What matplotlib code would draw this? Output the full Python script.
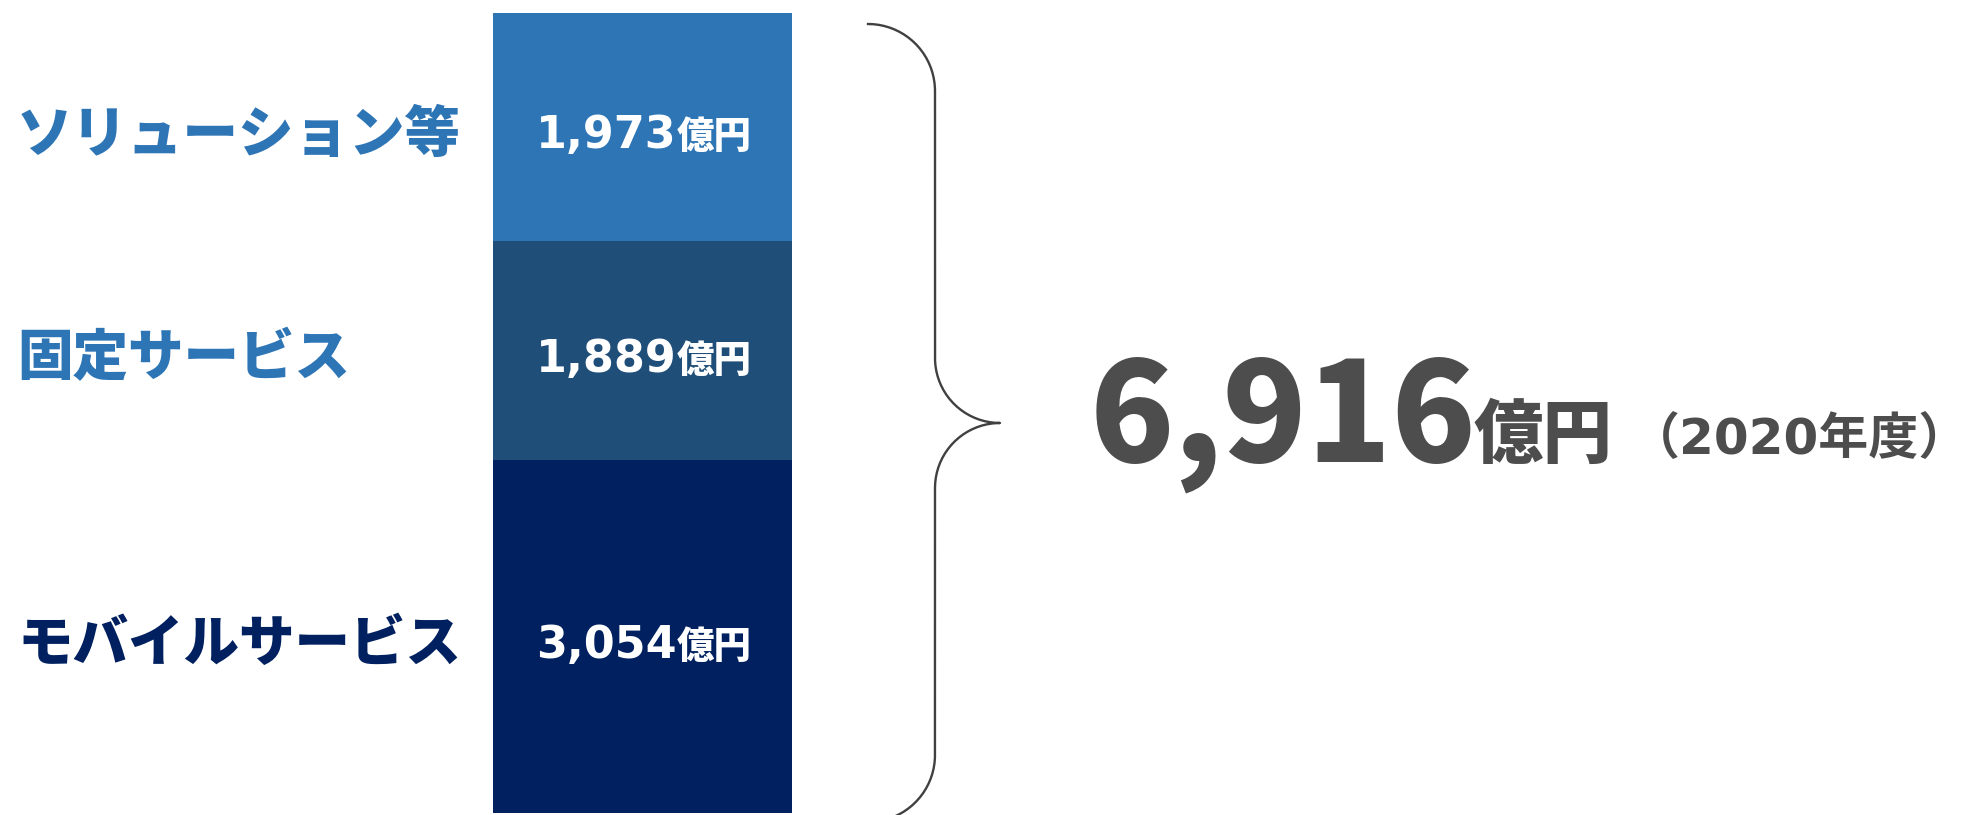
import numpy as np
import matplotlib
matplotlib.use('Agg')
import matplotlib.pyplot as plt
from matplotlib.lines import Line2D
from matplotlib.transforms import Affine2D, offset_copy, blended_transform_factory

# data
categories = ['モバイルサービス', '固定サービス', 'ソリューション等']
values = [3054, 1889, 1973]
unit = '億円'
year_label = '（2020年度）'

bar_colors = ['#002060', '#1F4E79', '#2E75B6']
label_colors = ['#002060', '#2E75B6', '#2E75B6']
text_gray = '#4D4D4D'

W, H = 1973, 815
fig = plt.figure(figsize=(W / 100, H / 100), dpi=100)
ax = fig.add_axes([0, 0, 1, 1])

# bar sits at pixel 493..791 horizontally, total reaches 12.6 px from top
bar_px_left, bar_px_w = 493, 298.5
ax.set_xlim(-(bar_px_left + bar_px_w / 2) / bar_px_w,
            (W - bar_px_left - bar_px_w / 2) / bar_px_w)
total = sum(values)
per_px = total / (H - 12.6 - 2)
ax.set_ylim(-2 * per_px, total + 12.6 * per_px)
ax.axis('off')

cjk = ['Noto Sans CJK JP', 'DejaVu Sans']
latin_first = ['DejaVu Sans', 'Noto Sans CJK JP']
label_tr = offset_copy(blended_transform_factory(fig.transFigure, ax.transData),
                       fig=fig, y=-6, units='points')
num_tr = offset_copy(ax.transData, fig=fig, x=24.5, y=-15.5, units='points')

bottom = 0
for cat, v, bc, lc in zip(categories, values, bar_colors, label_colors):
    ax.bar(0, v, bottom=bottom, width=1, color=bc, linewidth=0)
    mid = bottom + v / 2
    ax.text(17 / W, mid, cat, transform=label_tr, ha='left', va='center',
            fontsize=40, fontweight='heavy', color=lc, family=cjk)
    ax.text(0, mid, f'{v:,}', transform=num_tr, ha='right', va='baseline',
            fontsize=32, fontweight='bold', color='white', family='DejaVu Sans')
    ax.text(0, mid, unit, transform=num_tr, ha='left', va='baseline',
            fontsize=27, fontweight='heavy', color='white', family=cjk)
    bottom += v

# brace drawn in pixel space (y up)
def arc(cx, cy, r, a0, a1):
    t = np.radians(np.linspace(a0, a1, 40))
    return cx + r * np.cos(t), cy + r * np.sin(t)

parts = [arc(868, 724, 67, 90, 0), arc(1000, 457, 65, 180, 270),
         arc(1000, 327, 65, 90, 180), arc(868, 60, 67, 0, -90)]
bx = np.concatenate([p[0] for p in parts])
by = np.concatenate([p[1] for p in parts])
px_tr = Affine2D().scale(1 / W, 1 / H) + fig.transFigure
fig.add_artist(Line2D(bx, by, color='#404040', linewidth=1.7, transform=px_tr))

# total
fig.text(1090 / W, 1 - 461 / H, f'{total:,}', ha='left', va='baseline',
         fontsize=100, fontweight='heavy', color=text_gray, family=cjk)
fig.text(1474 / W, 1 - 457 / H, unit, ha='left', va='baseline',
         fontsize=50, fontweight='heavy', color=text_gray, family=cjk)
fig.text(1630 / W, 1 - 454 / H, year_label, ha='left', va='baseline',
         fontsize=36, fontweight='bold', color=text_gray, family=latin_first)

fig.savefig('out.png', dpi=100, facecolor='white')
